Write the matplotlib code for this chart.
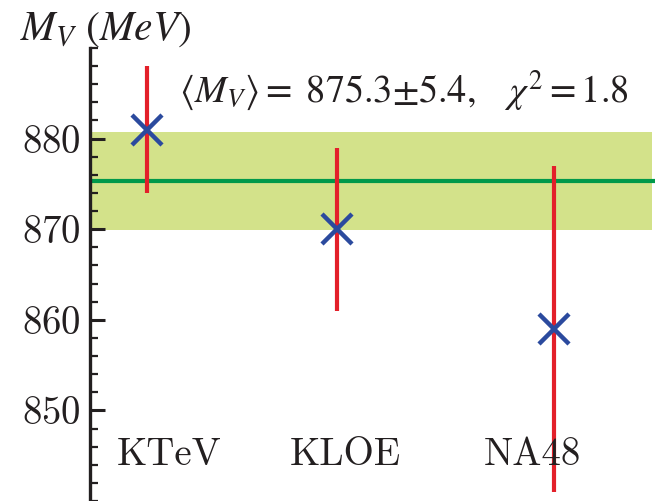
import matplotlib
matplotlib.use("Agg")
import matplotlib.pyplot as plt
from matplotlib.ticker import MultipleLocator

plt.rcParams["font.family"] = "serif"
plt.rcParams["font.serif"] = ["cmr10", "DejaVu Serif"]
plt.rcParams["mathtext.fontset"] = "cm"
plt.rcParams["axes.formatter.use_mathtext"] = True

# Measurements of the vector mass (MeV)
experiments = ["KTeV", "KLOE", "NA48"]
x_pos = [1.0, 2.0, 3.14]
mass = [881.0, 870.0, 859.0]
mass_err = [7.0, 9.0, 18.0]

# Weighted average and its uncertainty
avg_mass = 875.3
avg_err = 5.4
chi2 = 1.8

y_ticks = [850, 860, 870, 880]

fig = plt.figure(figsize=(6.55, 5.01), dpi=100)
ax = fig.add_axes([0.1374, 0.0, 0.8626, 0.9042])
ax.set_xlim(0.7, 3.674)
ax.set_ylim(840, 890)

ax.axhspan(avg_mass - avg_err, avg_mass + avg_err, xmin=0, xmax=0.995,
           color="#d3e28a", lw=0, zorder=1)
ax.axhline(avg_mass, color="#00994a", lw=3.0, zorder=2)

for x, m, e in zip(x_pos, mass, mass_err):
    ax.plot([x, x], [m - e, m + e], color="#e3202a", lw=3.0,
            solid_capstyle="butt", zorder=3)
ax.plot(x_pos, mass, "x", color="#2b4a9e", ms=22, mew=3.2, zorder=4,
        linestyle="none")

for sp in ["top", "right", "bottom"]:
    ax.spines[sp].set_visible(False)
ax.spines["left"].set_linewidth(2.4)
ax.spines["left"].set_color("#231f20")

ax.set_xticks([])
ax.set_yticks(y_ticks)
ax.yaxis.set_minor_locator(MultipleLocator(2))
ax.tick_params(axis="y", which="major", direction="in", length=11,
               width=2.2, color="#231f20", labelsize=28, pad=7,
               labelcolor="#231f20")
ax.tick_params(axis="y", which="minor", direction="in", length=5.5,
               width=1.6, color="#231f20")

label_x = [1.114, 2.043, 3.027]
for lx, name in zip(label_x, experiments):
    ax.text(lx, 844.0, name, ha="center", va="baseline", fontsize=28,
            color="#231f20")

fig.text(0.03, 0.94, r"$M_V\ (MeV)$", fontsize=30, ha="left", va="center",
         math_fontfamily="stix", color="#231f20")

summary = (r"$\langle M_V\rangle{=}\ %.1f{\pm}%.1f,\quad \chi^2{=}%.1f$"
           % (avg_mass, avg_err, chi2))
ax.text(1.17, 884.1, summary, fontsize=27.5, ha="left", va="baseline",
        color="#231f20", math_fontfamily="stix")

fig.savefig("out.png", dpi=100)
